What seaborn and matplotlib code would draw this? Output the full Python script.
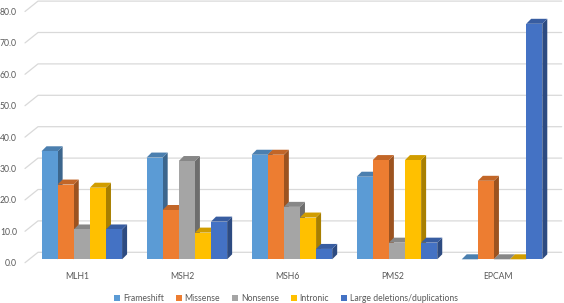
import numpy as np
import pandas as pd
import matplotlib.pyplot as plt
import matplotlib.colors as mcolors
import matplotlib.transforms as mtransforms
from matplotlib.patches import Polygon, Patch
import seaborn as sns

genes = ["MLH1", "MSH2", "MSH6", "PMS2", "EPCAM"]
types = ["Frameshift", "Missense", "Nonsense", "Intronic", "Large deletions/duplications"]
frameshift = [34.4, 32.4, 33.3, 26.3, 0.0]
missense = [23.8, 15.7, 33.3, 31.6, 25.0]
nonsense = [9.5, 31.3, 16.7, 5.3, 0.0]
intronic = [22.8, 8.5, 13.3, 31.6, 0.0]
large_del = [9.5, 12.0, 3.3, 5.3, 75.0]
colors = ["#5B9BD5", "#ED7D31", "#A5A5A5", "#FFC000", "#4472C4"]
yticks = [0, 10, 20, 30, 40, 50, 60, 70, 80]

df = pd.DataFrame({
    "gene": genes * 5,
    "type": np.repeat(types, len(genes)),
    "pct": frameshift + missense + nonsense + intronic + large_del,
})

sns.set_style("white")
plt.rcParams["font.family"] = ["Lato", "DejaVu Sans"]
text_col = "#595959"

W, H = 564, 303
fig = plt.figure(figsize=(W / 100, H / 100), dpi=100)
# axes = front plane of the bars (pixel geometry of the reference)
ax = fig.add_axes([29.3 / W, (H - 259.3) / H, (553 - 29.3) / W, 251.2 / H])

sns.barplot(data=df, x="gene", y="pct", hue="type", palette=colors,
            width=0.767, saturation=1, legend=False, ax=ax)

ax.set_xlim((29.3 - 81.8) / 105.05, (553 - 81.8) / 105.05)
ax.set_ylim(0, 80)
ax.set_xlabel("")
ax.set_ylabel("")
ax.set_yticks(yticks)
ax.set_yticklabels([f"{v:.1f}" for v in yticks])
for s in ax.spines.values():
    s.set_visible(False)
ax.tick_params(length=0, labelsize=6.2, labelcolor=text_col)
ax.tick_params(axis="y", pad=8.9)
ax.tick_params(axis="x", pad=6.5)

# pixel -> data scale
p0 = ax.transData.transform((0, 0))
p1 = ax.transData.transform((1, 1))
sx, sy = p1[0] - p0[0], p1[1] - p0[1]

# shift tick labels to the front edge of the floor
shift_x = mtransforms.ScaledTranslation(-4.3 / 100, -3.4 / 100, fig.dpi_scale_trans)
shift_y = mtransforms.ScaledTranslation(0, -3.4 / 100, fig.dpi_scale_trans)
for lbl in ax.get_xticklabels():
    lbl.set_transform(lbl.get_transform() + shift_x)
for lbl in ax.get_yticklabels():
    lbl.set_transform(lbl.get_transform() + shift_y)

# 3d-looking gridlines: short diagonal at front, then along the back wall
x_left, x_right = ax.get_xlim()
for v in yticks:
    fx, fy = x_left - 4.3 / sx, v - 3.4 / sy
    bx, by = x_left + 8.7 / sx, v + 7.0 / sy
    ex = x_right + 8.7 / sx
    ax.plot([fx, bx, ex], [fy, by, by], color="#D9D9D9", lw=0.9,
            zorder=0, clip_on=False)

# extrude bars with top and side faces
depth_x, depth_y = 5.0 / sx, 5.0 / sy
bars = sorted(ax.patches, key=lambda p: p.get_x())
for i, bar in enumerate(bars):
    x0, w, h = bar.get_x(), bar.get_width(), bar.get_height()
    x1 = x0 + w
    rgb = np.array(mcolors.to_rgb(bar.get_facecolor()))
    top = Polygon([(x0, h), (x1, h), (x1 + depth_x, h + depth_y), (x0 + depth_x, h + depth_y)],
                  closed=True, facecolor=rgb * 0.82, edgecolor="none", clip_on=False)
    side = Polygon([(x1, 0), (x1 + depth_x, depth_y), (x1 + depth_x, h + depth_y), (x1, h)],
                   closed=True, facecolor=rgb * 0.66, edgecolor="none", clip_on=False)
    z = 2 + i * 0.01
    side.set_zorder(z)
    top.set_zorder(z + 0.002)
    bar.set_zorder(z + 0.004)
    bar.set_edgecolor("none")
    bar.set_clip_on(False)
    ax.add_patch(side)
    ax.add_patch(top)

handles = [Patch(facecolor=c, edgecolor="none", label=t) for c, t in zip(colors, types)]
fig.legend(handles=handles, loc="center", bbox_to_anchor=(286 / W, 4.7 / H), ncol=5,
           frameon=False, fontsize=6.2, labelcolor=text_col, handlelength=0.7,
           handleheight=0.7, handletextpad=0.35, columnspacing=1.35, borderpad=0)

fig.savefig("out.png", dpi=100)
